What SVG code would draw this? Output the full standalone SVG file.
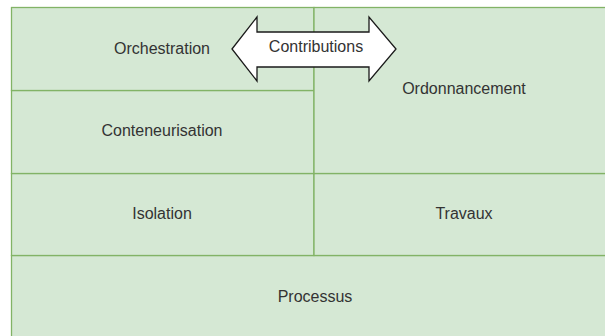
<svg xmlns="http://www.w3.org/2000/svg" width="605" height="336" viewBox="0 0 605 336">
<style>
.box{fill:#d5e8d4;stroke:#82b366;stroke-width:1.3}
.lbl{font-family:"Liberation Sans",Arial,sans-serif;font-size:16px;fill:#333;text-anchor:middle;dominant-baseline:central}
.arrow{fill:#ffffff;stroke:#1a1a1a;stroke-width:1.3;stroke-linejoin:miter}
</style>
<rect width="605" height="336" fill="#ffffff"/>
<g id="processus"><rect class="box" x="11.5" y="255.5" width="603" height="100"/><text class="lbl" x="315" y="296">Processus</text></g>
<g id="isolation"><rect class="box" x="11.5" y="173.5" width="302.5" height="82"/><text class="lbl" x="162" y="213">Isolation</text></g>
<g id="travaux"><rect class="box" x="314" y="173.5" width="300.5" height="82"/><text class="lbl" x="464" y="213">Travaux</text></g>
<g id="conteneurisation"><rect class="box" x="11.5" y="90.5" width="302.5" height="83"/><text class="lbl" x="162" y="130">Conteneurisation</text></g>
<g id="orchestration"><rect class="box" x="11.5" y="7.5" width="302.5" height="83"/><text class="lbl" x="162" y="48">Orchestration</text></g>
<g id="ordonnancement"><rect class="box" x="314" y="7.5" width="300.5" height="166"/><text class="lbl" x="464" y="88">Ordonnancement</text></g>
<g id="connectors">
<g id="contributions"><path class="arrow" d="M232,49 L257,17 L257,32 L369,32 L369,17 L396,49 L369,81 L369,67 L257,67 L257,81 Z"/><text class="lbl" x="316" y="46">Contributions</text></g>
</g>
</svg>
